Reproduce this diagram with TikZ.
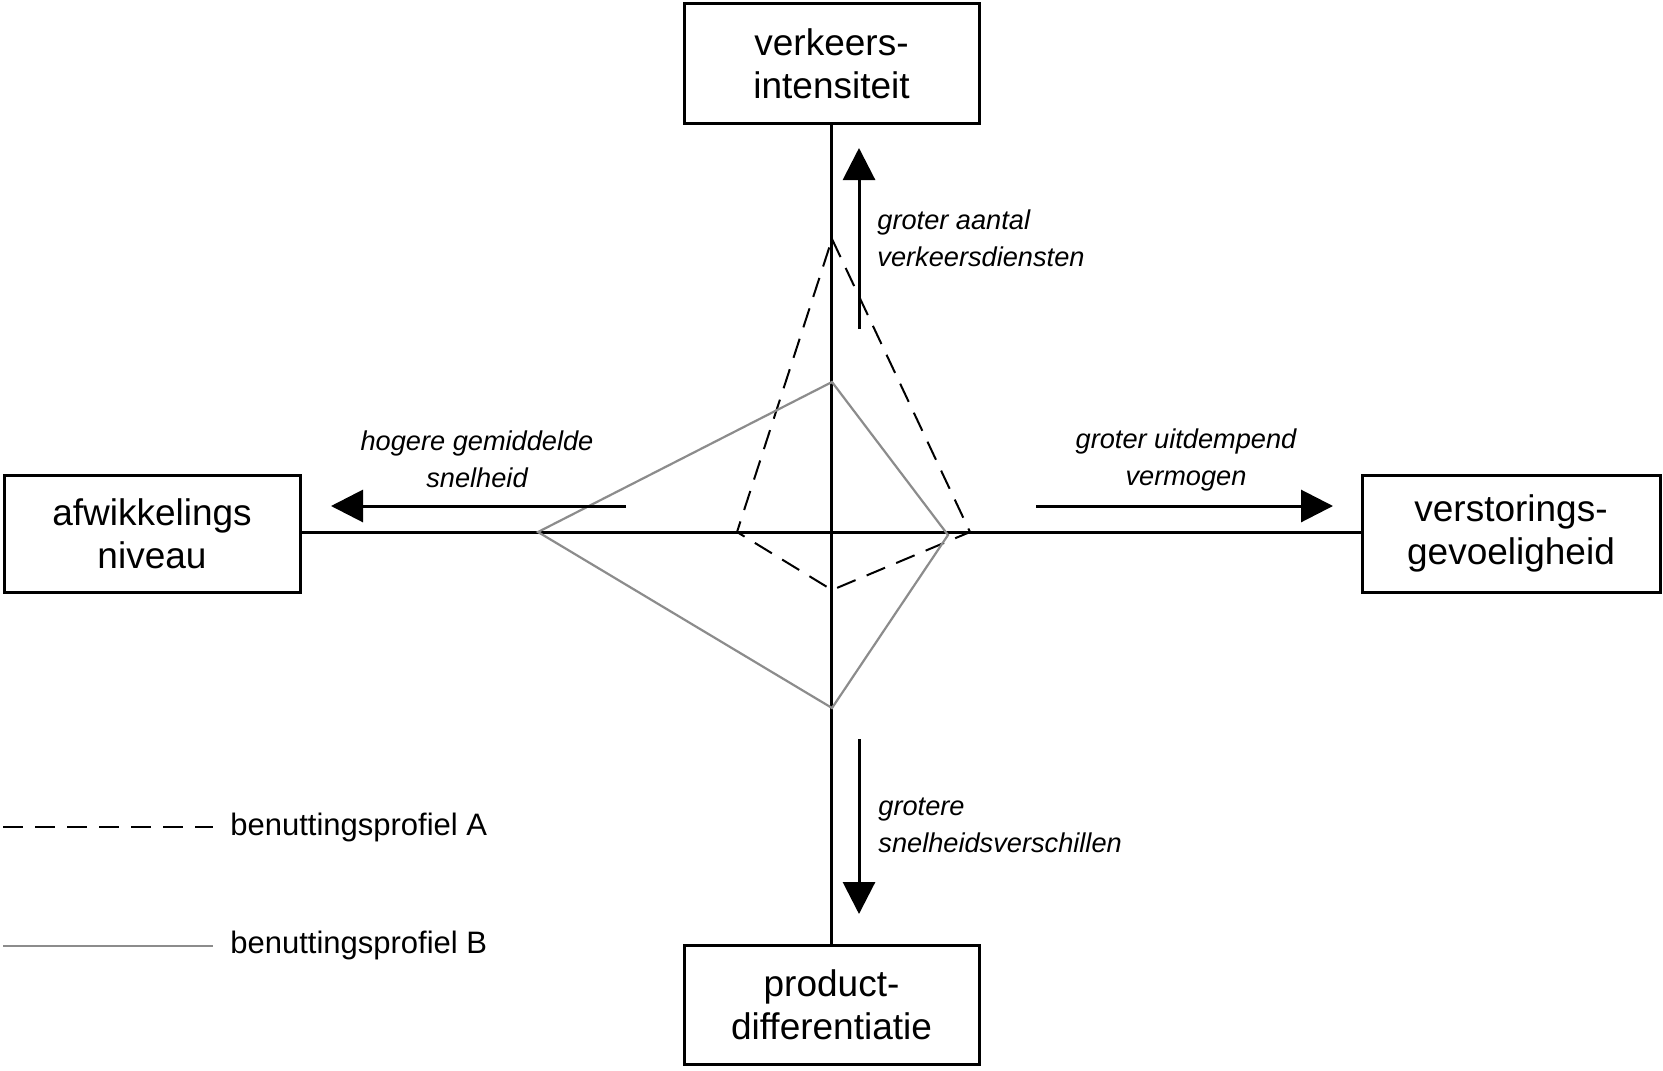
\documentclass[tikz,border=0pt]{standalone}
\usepackage{fontspec}
\setmainfont{Liberation Sans}
\usetikzlibrary{arrows.meta}
\begin{document}
\begin{tikzpicture}[x=0.5pt,y=-0.5pt,
  box/.style={draw,line width=1.5pt,inner sep=0pt,align=center,
    font=\fontsize{18.5}{21.7}\selectfont},
  axis/.style={line width=1.5pt},
  dirarrow/.style={line width=1.5pt,-{Triangle[length=16pt,width=16pt]}},
  lbl/.style={inner sep=0pt,font=\fontsize{13.6}{18.5}\selectfont\itshape},
  legtext/.style={inner sep=0pt,anchor=west,font=\fontsize{15.5}{19}\selectfont},
  profA/.style={line width=1pt,dash pattern=on 10pt off 6pt},
  profB/.style={line width=1.1pt,draw={rgb,255:red,140;green,140;blue,140}}
]
\useasboundingbox (0,0) rectangle (1663,1070);

% boxes
\node[box,minimum width=147.5pt,minimum height=60pt] (top) at (831.5,63.5) {verkeers-\\intensiteit};
\node[box,minimum width=148pt,minimum height=58.5pt] (left) at (152,533.5) {afwikkelings\\niveau};
\node[box,minimum width=149pt,minimum height=58.5pt] (right) at (1511,533.5) {verstorings-\\gevoeligheid};
\node[box,minimum width=147.5pt,minimum height=59.5pt] (bottom) at (831.5,1004.5) {product-\\differentiatie};

% axes
\draw[axis] (top.south) -- (bottom.north);
\draw[axis] (left.east |- 0,532) coordinate (lax) -- (right.west |- 0,532) coordinate (rax);

% profiles
\coordinate (aT) at (832,239);
\coordinate (aR) at (970,532);
\coordinate (aB) at (832,590);
\coordinate (aL) at (737,532);
\draw[profA] (aT) -- (aR) -- (aB) -- (aL) -- cycle;

\coordinate (bT) at (832,382);
\coordinate (bR) at (948,535);
\coordinate (bB) at (832,708);
\coordinate (bL) at (538,532);
\draw[profB] (bT) -- (bR) -- (bB) -- (bL) -- cycle;

% direction arrows
\coordinate (upS) at (859,329);
\coordinate (upE) at (859,148);
\draw[dirarrow] (upS) -- (upE);
\coordinate (lfS) at (626,506);
\coordinate (lfE) at (331,506);
\draw[dirarrow] (lfS) -- (lfE);
\coordinate (rtS) at (1036,506);
\coordinate (rtE) at (1333,506);
\draw[dirarrow] (rtS) -- (rtE);
\coordinate (dnS) at (859,739);
\coordinate (dnE) at (859,914);
\draw[dirarrow] (dnS) -- (dnE);

% labels
\node[lbl,anchor=west,align=left] (lup) at (877,238.5) {groter aantal\\verkeersdiensten};
\node[lbl,align=center] (llf) at (477,459.5) {hogere gemiddelde\\snelheid};
\node[lbl,align=center] (lrt) at (1186,459.5) {groter uitdempend\\vermogen};
\node[lbl,anchor=west,align=left] (ldn) at (878,825.5) {grotere\\snelheidsverschillen};

% legend
\coordinate (lgA1) at (3,827);
\coordinate (lgA2) at (213,827);
\draw[profA] (lgA1) -- (lgA2);
\node[legtext] (legA) at (230,827) {benuttingsprofiel A};
\coordinate (lgB1) at (3,946);
\coordinate (lgB2) at (213,946);
\draw[profB] (lgB1) -- (lgB2);
\node[legtext] (legB) at (230,945) {benuttingsprofiel B};
\end{tikzpicture}
\end{document}
